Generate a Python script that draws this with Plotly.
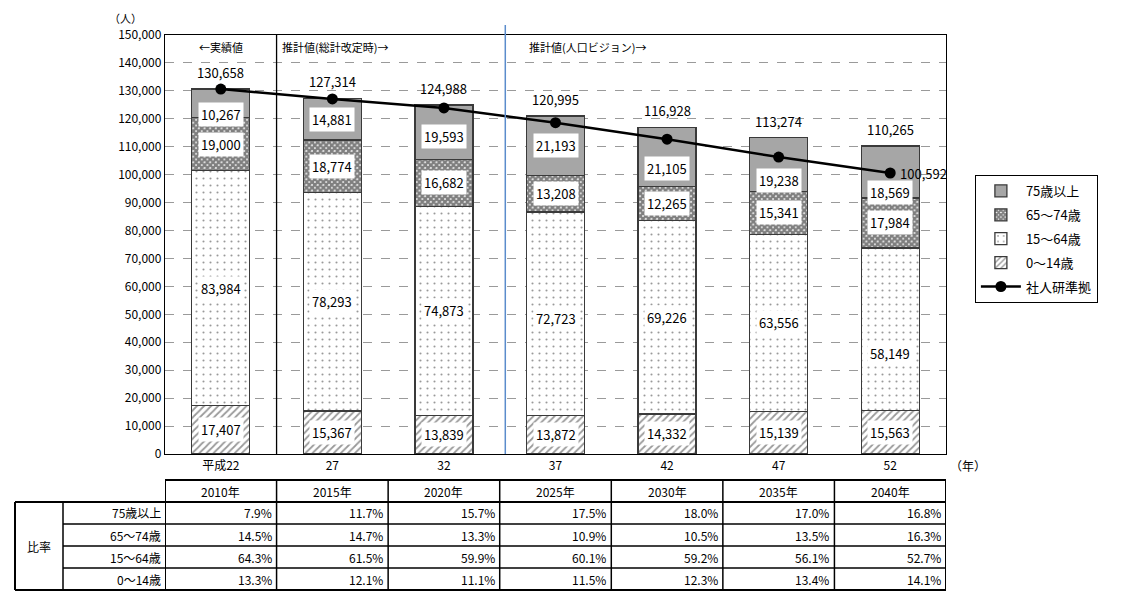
import plotly.graph_objects as go

# ---------------- data ----------------
categories = ["平成22", "27", "32", "37", "42", "47", "52"]
years = ["2010年", "2015年", "2020年", "2025年", "2030年", "2035年", "2040年"]
ages_0_14 = [17407, 15367, 13839, 13872, 14332, 15139, 15563]
ages_15_64 = [83984, 78293, 74873, 72723, 69226, 63556, 58149]
ages_65_74 = [19000, 18774, 16682, 13208, 12265, 15341, 17984]
ages_75 = [10267, 14881, 19593, 21193, 21105, 19238, 18569]
totals = [130658, 127314, 124988, 120995, 116928, 113274, 110265]
ipss_line = [130658, 127100, 123900, 118600, 112700, 106300, 100592]

ratio_75 = [7.9, 11.7, 15.7, 17.5, 18.0, 17.0, 16.8]
ratio_65_74 = [14.5, 14.7, 13.3, 10.9, 10.5, 13.5, 16.3]
ratio_15_64 = [64.3, 61.5, 59.9, 60.1, 59.2, 56.1, 52.7]
ratio_0_14 = [13.3, 12.1, 11.1, 11.5, 12.3, 13.4, 14.1]

series_names = ["0～14歳", "15～64歳", "65～74歳", "75歳以上"]
line_name = "社人研準拠"
row_labels = ["75歳以上", "65～74歳", "15～64歳", "0～14歳"]

# ---------------- styles ----------------
FONT = "Noto Sans CJK JP"
label_shift_75 = [-11, 0, -4, 0, -12, -16, -21]   # px, label placement tweaks
label_shift_15 = [0, 0, 0, -5, 0, 0, -24]

xs = list(range(len(categories)))

fig = go.Figure()
bar_w = 0.52
outline = dict(color="#3a3a3a", width=1.3)

fig.add_trace(go.Bar(x=xs, y=ages_0_14, name=series_names[0], width=bar_w,
                     legendrank=4, legendgroup="g4",
                     marker=dict(color="white", line=outline,
                                 pattern=dict(shape="/", fgcolor="#333333", bgcolor="white",
                                              size=5, solidity=0.35))))
fig.add_trace(go.Bar(x=xs, y=ages_15_64, name=series_names[1], width=bar_w,
                     legendrank=3, legendgroup="g3",
                     marker=dict(color="white", line=outline,
                                 pattern=dict(shape=".", fgcolor="#333333", bgcolor="white",
                                              size=7, solidity=0.07))))
fig.add_trace(go.Bar(x=xs, y=ages_65_74, name=series_names[2], width=bar_w,
                     legendrank=2, legendgroup="g2",
                     marker=dict(color="white", line=outline,
                                 pattern=dict(shape="x", fgcolor="#000000", bgcolor="white",
                                              size=4, solidity=0.85))))
fig.add_trace(go.Bar(x=xs, y=ages_75, name=series_names[3], width=bar_w,
                     legendrank=1, legendgroup="g1",
                     marker=dict(color="#a6a6a6", line=outline)))
fig.add_trace(go.Scatter(x=xs, y=ipss_line, name=line_name, mode="lines+markers",
                         legendrank=5, legendgroup="g5",
                         line=dict(color="black", width=2.5),
                         marker=dict(color="black", size=11)))

ann = []
lab_font = dict(family=FONT, size=13, color="black")
for i in xs:
    b0 = 0
    b1 = b0 + ages_0_14[i]
    b2 = b1 + ages_15_64[i]
    b3 = b2 + ages_65_74[i]
    b4 = b3 + ages_75[i]
    segs = [((b0 + b1) / 2, ages_0_14[i], 0),
            ((b1 + b2) / 2, ages_15_64[i], label_shift_15[i]),
            ((b2 + b3) / 2, ages_65_74[i], 0),
            ((b3 + b4) / 2, ages_75[i], label_shift_75[i])]
    for yc, v, sh in segs:
        ann.append(dict(x=i, y=yc, xref="x", yref="y", text=f"{v:,}", showarrow=False,
                        bgcolor="white", borderpad=2, font=lab_font, yshift=sh,
                        xanchor="center", yanchor="middle"))
    ann.append(dict(x=i, y=totals[i], xref="x", yref="y", text=f"{totals[i]:,}",
                    showarrow=False, xanchor="center", yanchor="bottom", yshift=5,
                    font=lab_font))

ann.append(dict(x=xs[-1], y=ipss_line[-1], xref="x", yref="y",
                text=f"{ipss_line[-1]:,}", showarrow=False, xanchor="left",
                yanchor="middle", xshift=8, font=lab_font))

small = dict(family=FONT, size=11, color="black")
ann += [
    dict(x=0, y=0.971, xref="x", yref="paper", text="←実績値", showarrow=False,
         xanchor="center", yanchor="middle", font=small),
    dict(x=0.5, y=0.971, xref="x", yref="paper", text="推計値(総計改定時)→", showarrow=False,
         xanchor="left", yanchor="middle", xshift=3, font=small),
    dict(x=2.55, y=0.971, xref="x", yref="paper", text="推計値(人口ビジョン)→", showarrow=False,
         xanchor="left", yanchor="middle", xshift=22, font=small),
    dict(x=-0.051, y=1.04, xref="paper", yref="paper", text="（人）", showarrow=False,
         xanchor="center", yanchor="middle", font=dict(family=FONT, size=11)),
    dict(x=1.028, y=-0.0286, xref="paper", yref="paper", text="（年）", showarrow=False,
         xanchor="center", yanchor="middle", font=dict(family=FONT, size=12)),
]

shapes = [
    dict(type="line", xref="x", yref="paper", x0=0.5, x1=0.5, y0=0, y1=1,
         line=dict(color="black", width=1.3)),
    dict(type="line", xref="x", yref="paper", x0=2.55, x1=2.55, y0=0, y1=1.024,
         line=dict(color="#5b8ccc", width=1.5)),
]

# ---------------- table ----------------
PH = 419.0
def py(px):  # page pixel row -> paper y
    return (454 - px) / PH

def pxx(px):  # page pixel col -> paper x
    return (px - 165) / 781.0

hdr_top, hdr_bot = 480, 502
row_h = 22
row_edges = [hdr_bot + row_h * k for k in range(5)]
tbl_font = dict(family=FONT, size=12, color="black")

shapes.append(dict(type="line", xref="x", yref="paper", x0=-0.5, x1=6.5,
                   y0=py(hdr_top), y1=py(hdr_top), line=dict(color="black", width=2)))
for k, yy in enumerate(row_edges):
    x0 = pxx(15) if k in (0, 4) else pxx(63)
    shapes.append(dict(type="line", xref="paper", yref="paper", x0=x0, x1=1.0,
                       y0=py(yy), y1=py(yy),
                       line=dict(color="black", width=2 if k in (0, 4) else 1.5)))
for j in range(8):
    shapes.append(dict(type="line", xref="x", yref="paper", x0=j - 0.5, x1=j - 0.5,
                       y0=py(hdr_top), y1=py(row_edges[-1]),
                       line=dict(color="black", width=2 if j in (0, 7) else 1.5)))
for xx in (15, 63):
    shapes.append(dict(type="line", xref="paper", yref="paper", x0=pxx(xx), x1=pxx(xx),
                       y0=py(row_edges[0]), y1=py(row_edges[-1]),
                       line=dict(color="black", width=2 if xx == 15 else 1.5)))

for j, yr in enumerate(years):
    ann.append(dict(x=j, y=py((hdr_top + hdr_bot) / 2), xref="x", yref="paper", text=yr,
                    showarrow=False, xanchor="center", yanchor="middle", font=tbl_font))
ann.append(dict(x=pxx(39), y=py((row_edges[0] + row_edges[-1]) / 2), xref="paper",
                yref="paper", text="比率", showarrow=False, xanchor="center",
                yanchor="middle", font=tbl_font))
ratio_rows = [ratio_75, ratio_65_74, ratio_15_64, ratio_0_14]
for r, (lab, vals) in enumerate(zip(row_labels, ratio_rows)):
    yc = py(row_edges[r] + row_h / 2)
    ann.append(dict(x=pxx(166), y=yc, xref="paper", yref="paper", text=lab, showarrow=False,
                    xanchor="right", yanchor="middle", xshift=-3, font=tbl_font))
    for j, v in enumerate(vals):
        ann.append(dict(x=j + 0.5, y=yc, xref="x", yref="paper", text=f"{v:.1f}%",
                        showarrow=False, xanchor="right", yanchor="middle", xshift=-3,
                        font=tbl_font))

# page body has an 8px margin, so the figure is sized/offset to compensate
fig.update_layout(
    width=1121, height=593, autosize=False,
    margin=dict(l=157, r=183, t=27, b=147),
    barmode="stack",
    plot_bgcolor="white", paper_bgcolor="white",
    font=dict(family=FONT, size=12, color="black"),
    showlegend=True,
    legend=dict(x=1.037, y=0.666, xanchor="left", yanchor="top", traceorder="grouped",
                bordercolor="black", borderwidth=1, bgcolor="white",
                font=dict(family=FONT, size=13), tracegroupgap=4, itemwidth=40),
    annotations=ann,
    shapes=shapes,
)
fig.update_yaxes(range=[0, 150000], dtick=10000, tickformat=",", showgrid=True,
                 gridcolor="#9a9a9a", griddash="dash", gridwidth=1,
                 showline=True, linecolor="black", linewidth=1.3, mirror=True,
                 ticks="", tickfont=dict(family=FONT, size=12), zeroline=False)
fig.update_xaxes(tickmode="array", tickvals=xs, ticktext=categories,
                 showline=True, linecolor="black", linewidth=1.3,
                 mirror=True, ticks="", tickfont=dict(family=FONT, size=12),
                 range=[-0.5, 6.5], showgrid=False, zeroline=False)

fig.write_html("out.html")
